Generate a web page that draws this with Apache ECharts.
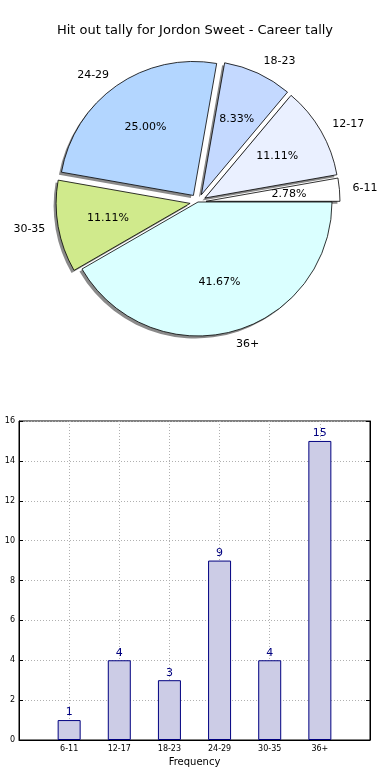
<!DOCTYPE html>
<html><head><meta charset="utf-8">
<script src="https://cdn.jsdelivr.net/npm/echarts@6/dist/echarts.min.js"></script>
<style>html,body{margin:0;padding:0;background:#fff}#c{width:390px;height:780px}</style>
</head><body><div id="c"></div>
<script>
const chartTitle = 'Hit out tally for Jordon Sweet - Career tally';
const categories = ['6-11', '12-17', '18-23', '24-29', '30-35', '36+'];
const counts = [1, 4, 3, 9, 4, 15];
const pieColors = ['#ffffff', '#eaf0ff', '#c4d9ff', '#b3d6ff', '#d0ea8c', '#daffff'];
const exploded = [true, true, true, true, true, false];
const xAxisName = 'Frequency';
const yAxisName = 'Stat Instances';
const yMin = 0, yMax = 16, yStep = 2;

const FONT = 'DejaVu Sans';
const R = 134;
const C = [198, 202];
const SH = [-2.5, 2.5];

const mk = (withColor) => categories.map((c, i) => {
  const d = { name: c, value: counts[i], selected: exploded[i] };
  if (withColor) d.itemStyle = { color: pieColors[i] };
  return d;
});
const total = counts.reduce((a, b) => a + b, 0);

// category axis padded with an empty slot on both ends
const xCats = [''].concat(categories, ['']);
const barVals = [null].concat(counts, [null]);

const pieBase = {
  type: 'pie', startAngle: 0, clockwise: false,
  selectedMode: 'multiple', selectedOffset: 8,
  avoidLabelOverlap: false, silent: true,
  emphasis: { disabled: true }, labelLine: { show: false }
};

const chart = echarts.init(document.getElementById('c'), null, { renderer: 'canvas' });
chart.setOption({
  animation: false,
  backgroundColor: '#fff',
  textStyle: { fontFamily: FONT },
  title: {
    text: chartTitle, left: 'center', top: 19,
    textStyle: { fontFamily: FONT, fontSize: 13, fontWeight: 'normal', color: '#000' }
  },
  grid: {
    left: 19, right: 20, top: 421, bottom: 40,
    containLabel: false, outerBoundsMode: 'none',
    show: true, borderColor: '#000', borderWidth: 1, backgroundColor: 'transparent'
  },
  xAxis: [{
    type: 'category', data: xCats, boundaryGap: false,
    name: xAxisName, nameLocation: 'middle', nameGap: 17,
    nameTextStyle: { fontFamily: FONT, fontSize: 10, color: '#000' },
    axisLine: { show: true, lineStyle: { color: '#000' } },
    axisTick: { show: true, inside: true, length: 4, lineStyle: { color: '#000' } },
    axisLabel: { fontFamily: FONT, fontSize: 8, color: '#000', margin: 5, interval: 0 },
    splitLine: { show: true, lineStyle: { color: '#b0b0b0', type: [1, 2] } }
  }],
  yAxis: [{
    type: 'value', min: yMin, max: yMax, interval: yStep,
    name: yAxisName, nameLocation: 'middle', nameGap: 10, nameRotate: 90,
    nameTextStyle: { fontFamily: FONT, fontSize: 10, color: '#000' },
    axisLine: { show: true, lineStyle: { color: '#000' } },
    axisTick: { show: true, inside: true, length: 4, lineStyle: { color: '#000' } },
    axisLabel: { fontFamily: FONT, fontSize: 8, color: '#000', margin: 4 },
    splitLine: { show: true, lineStyle: { color: '#b0b0b0', type: [1, 2] } }
  }, {
    type: 'value', min: yMin, max: yMax, interval: yStep, position: 'right',
    axisLine: { show: true, lineStyle: { color: '#000' } },
    axisTick: { show: true, inside: true, length: 4, lineStyle: { color: '#000' } },
    axisLabel: { show: false }, splitLine: { show: false }
  }],
  series: [Object.assign({}, pieBase, {
    // shadow layer beneath all wedges
    center: [C[0] + SH[0], C[1] + SH[1]], radius: [0, R], z: 1,
    data: mk(false),
    itemStyle: { color: '#8a8a8a', borderWidth: 0 },
    label: { show: false }
  }), Object.assign({}, pieBase, {
    center: C, radius: [0, R], z: 2,
    data: mk(true),
    itemStyle: { borderColor: '#000', borderWidth: 0.8 },
    label: {
      show: true, position: 'outside', distanceToLabelLine: 0,
      fontFamily: FONT, fontSize: 11, color: '#000',
      formatter: p => p.name
    },
    labelLine: { show: false, length: 13, length2: 0 }
  }), Object.assign({}, pieBase, {
    center: C, radius: [R * 0.5, R * 0.7], z: 3,
    data: mk(false),
    itemStyle: { color: 'rgba(0,0,0,0)', borderWidth: 0 },
    label: {
      show: true, position: 'inside',
      fontFamily: FONT, fontSize: 11, color: '#000',
      formatter: p => (p.value / total * 100).toFixed(2) + '%'
    }
  }), {
    type: 'bar', data: barVals, barWidth: 23, xAxisIndex: 0, yAxisIndex: 0,
    itemStyle: { color: '#ccccE6', borderColor: '#000080', borderWidth: 1 },
    label: {
      show: true, position: 'top', distance: 2,
      fontFamily: FONT, fontSize: 11, color: '#000080'
    },
    emphasis: { disabled: true }
  }]
});
</script></body></html>
